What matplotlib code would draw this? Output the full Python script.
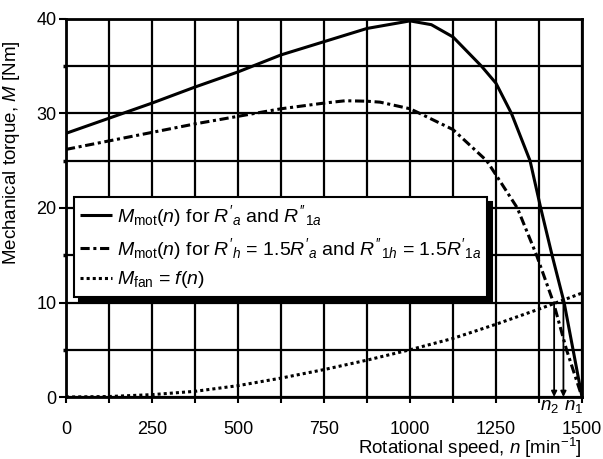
import matplotlib
matplotlib.use("Agg")
import matplotlib.pyplot as plt
from matplotlib.patches import Shadow
from matplotlib.ticker import MultipleLocator

plt.rcParams["font.family"] = ["Liberation Sans", "DejaVu Sans"]
plt.rcParams["mathtext.fontset"] = "custom"
plt.rcParams["mathtext.rm"] = "Liberation Sans"
plt.rcParams["mathtext.it"] = "Liberation Sans:italic"
plt.rcParams["mathtext.bf"] = "Liberation Sans:bold"

# motor torque, nominal resistances
n_mot = [0, 125, 250, 375, 500, 625, 750, 875, 1000, 1062, 1125, 1208,
         1250, 1295, 1349, 1380, 1413, 1448, 1474, 1500]
m_mot = [27.9, 29.5, 31.1, 32.8, 34.4, 36.2, 37.6, 39.0, 39.8, 39.4, 38.1, 35.0,
         33.2, 30.0, 25.0, 20.0, 15.0, 10.0, 5.0, 0.0]

# motor torque, increased resistances
n_mot_h = [0, 125, 250, 375, 500, 625, 750, 812, 875, 913, 1000, 1029, 1125,
           1223, 1250, 1312, 1368, 1417, 1455, 1500]
m_mot_h = [26.2, 27.1, 28.0, 28.9, 29.7, 30.5, 31.1, 31.35, 31.3, 31.2, 30.5, 30.0, 28.3,
           25.0, 23.5, 20.0, 15.0, 10.0, 5.0, 0.0]

# fan load torque
n_fan = [0, 125, 250, 375, 500, 625, 750, 875, 1000, 1125, 1250, 1375, 1500]
m_fan = [0.0, 0.05, 0.25, 0.6, 1.2, 2.0, 2.9, 3.9, 5.0, 6.2, 7.7, 9.3, 11.0]

# operating points
n_op = [1446, 1419]
m_op = [10.4, 10.0]
op_labels = [r"$n_1$", r"$n_2$"]
op_offsets = [7, -3]

fig = plt.figure(figsize=(6.03, 4.59), dpi=100)
ax = fig.add_axes([66 / 603, 62 / 459, 516 / 603, 378 / 459])

ax.plot(n_mot, m_mot, color="k", lw=2.2, solid_capstyle="butt",
        label=r"$M_{\mathrm{mot}}(n)$ for $R'_a$ and $R''_{1a}$", zorder=3)
ax.plot(n_mot_h, m_mot_h, color="k", lw=2.2, linestyle=(0, (3, 1.2, 1, 1.2)),
        label=r"$M_{\mathrm{mot}}(n)$ for $R'_h$ = 1.5$R'_a$ and $R''_{1h}$ = 1.5$R'_{1a}$",
        zorder=3)
ax.plot(n_fan, m_fan, color="k", lw=2.2, linestyle=(0, (1, 1)),
        label=r"$M_{\mathrm{fan}}$ = $f(n)$", zorder=3)

for n, m, lab, off in zip(n_op, m_op, op_labels, op_offsets):
    ax.annotate("", xy=(n, 0), xytext=(n, m),
                arrowprops=dict(arrowstyle="-|>", color="k", lw=1.3,
                                mutation_scale=8, shrinkA=0, shrinkB=0), zorder=3)
    ax.annotate(lab, xy=(n, 0), xytext=(off, -1), textcoords="offset points",
                ha="center", va="top", fontsize=13.5, annotation_clip=False)

ax.set_xlim(0, 1500)
ax.set_ylim(0, 40)
ax.xaxis.set_major_locator(MultipleLocator(250))
ax.xaxis.set_minor_locator(MultipleLocator(125))
ax.yaxis.set_major_locator(MultipleLocator(10))
ax.yaxis.set_minor_locator(MultipleLocator(5))
ax.grid(True, which="both", color="k", lw=1.6, zorder=1)
ax.set_axisbelow(True)
for s in ax.spines.values():
    s.set_linewidth(2.0)

ax.tick_params(axis="x", which="both", length=4, width=1.5, pad=13, labelsize=13)
ax.tick_params(axis="y", which="major", length=5, width=1.5, pad=2, labelsize=13)
ax.tick_params(axis="y", which="minor", length=2, width=2.5)

ax.set_xlabel(r"Rotational speed, $n$ [min$^{-1}$]", fontsize=13.5, loc="right")
ax.xaxis.set_label_coords(1.0, -0.104)
ax.set_ylabel(r"Mechanical torque, $M$ [Nm]", fontsize=13.5, loc="top")
ax.yaxis.set_label_coords(-0.085, 0.944)

leg = ax.legend(loc="upper left", bbox_to_anchor=(0.015, 0.53), borderaxespad=0,
                fontsize=14, frameon=True, fancybox=False, framealpha=1,
                edgecolor="k", handlelength=1.65, handletextpad=0.25,
                labelspacing=0.38, borderpad=0.32)
leg.get_frame().set_linewidth(1.5)
leg.set_zorder(5)

fig.canvas.draw()
ax.add_artist(Shadow(leg.legendPatch, 3.5, -3.5, facecolor="k", edgecolor="k",
                     alpha=1, zorder=4.9))

plt.savefig("out.png", dpi=100)
